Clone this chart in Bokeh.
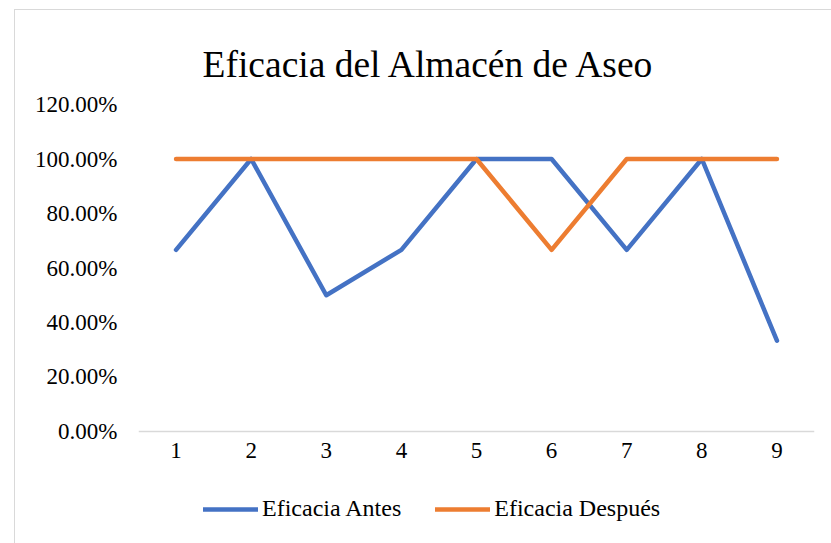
from bokeh.plotting import figure
from bokeh.models import Range1d, FixedTicker, Legend, LegendItem, NumeralTickFormatter, Label
from bokeh.embed import file_html
from bokeh.resources import INLINE

title_text = "Eficacia del Almacén de Aseo"
periods = [1, 2, 3, 4, 5, 6, 7, 8, 9]
antes = [0.6667, 1.0, 0.50, 0.6667, 1.0, 1.0, 0.6667, 1.0, 0.3333]
despues = [1.0, 1.0, 1.0, 1.0, 1.0, 0.6667, 1.0, 1.0, 1.0]
series_names = ["Eficacia Antes", "Eficacia Después"]
y_ticks = [0.0, 0.2, 0.4, 0.6, 0.8, 1.0, 1.2]

FONT = "Liberation Serif"
BLUE = "#4472C4"
ORANGE = "#ED7D31"

p = figure(width=817, height=534, output_backend="svg", toolbar_location=None,
           x_range=Range1d(0.5, 9.5), y_range=Range1d(-0.4147, 1.545),
           min_border_left=123, min_border_right=18, min_border_top=0, min_border_bottom=0)
p.styles = {"margin-left": "14px", "margin-top": "9px",
            "border-left": "1.5px solid #d9d9d9", "border-top": "1.5px solid #d9d9d9"}
p.title.visible = False
p.outline_line_color = None
p.xgrid.grid_line_color = None
p.ygrid.grid_line_color = None

p.xaxis.fixed_location = 0
p.xaxis.ticker = FixedTicker(ticks=periods)
p.yaxis.ticker = FixedTicker(ticks=y_ticks)
p.yaxis.formatter = NumeralTickFormatter(format="0.00%")
for ax in (p.xaxis, p.yaxis):
    ax.major_label_text_font = FONT
    ax.major_label_text_font_size = "23px"
    ax.major_label_text_color = "#000000"
    ax.major_tick_line_color = None
    ax.minor_tick_line_color = None
    ax.major_tick_out = 0
    ax.major_tick_in = 0
p.yaxis.axis_line_color = None
p.yaxis.major_label_standoff = 21
p.xaxis.axis_line_color = "#d9d9d9"
p.xaxis.axis_line_width = 1.5
p.xaxis.major_label_standoff = 12

r1 = p.line(periods, antes, line_color=BLUE, line_width=4.5, line_join="round", line_cap="round")
r2 = p.line(periods, despues, line_color=ORANGE, line_width=4.5, line_join="round", line_cap="round")

title = Label(x=291, y=480, x_units="screen", y_units="screen", text=title_text,
              text_font=FONT, text_font_size="37.5px", text_color="#000000",
              text_align="center", text_baseline="alphabetic")
p.add_layout(title)

legend = Legend(items=[LegendItem(label=series_names[0], renderers=[r1]),
                       LegendItem(label=series_names[1], renderers=[r2])],
                orientation="horizontal", location=(65, 22),
                label_text_font=FONT, label_text_font_size="24px", label_text_color="#000000",
                glyph_width=55, glyph_height=24, label_height=24, label_standoff=4, spacing=34,
                padding=0, margin=0, border_line_color=None, background_fill_alpha=0)
p.add_layout(legend, "center")

open("out.html", "w").write(file_html(p, INLINE))
